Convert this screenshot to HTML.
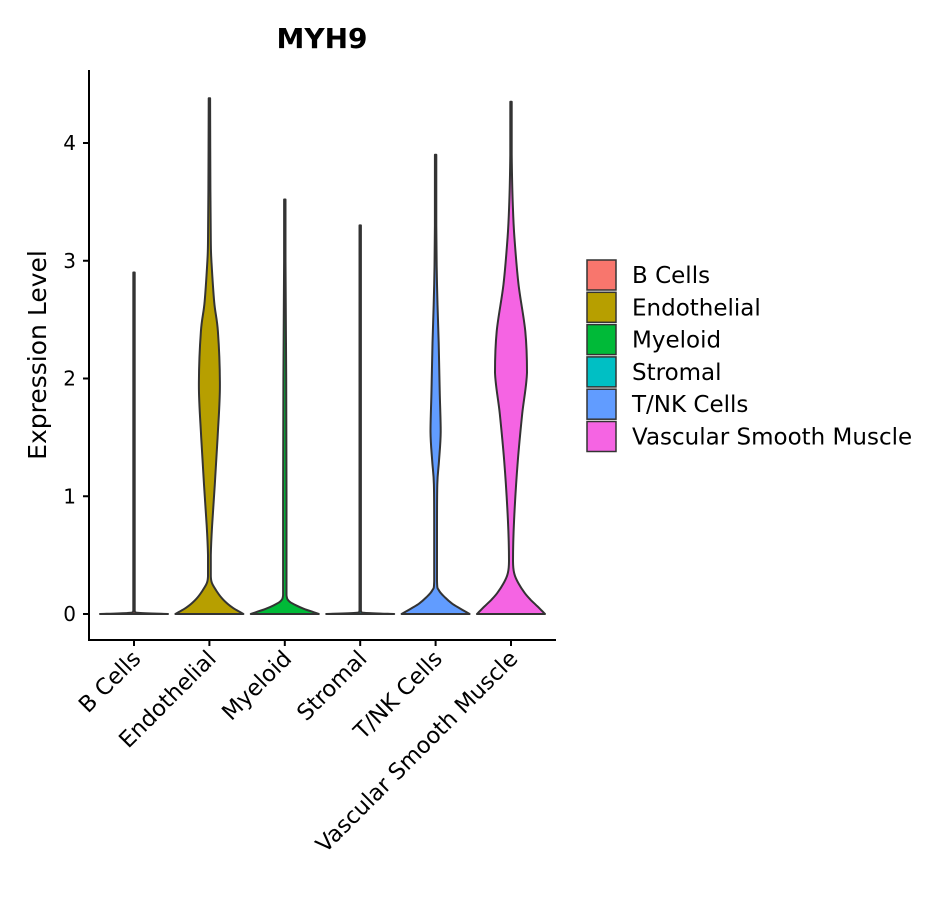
<!DOCTYPE html>
<html><head><meta charset="utf-8"><style>
body{margin:0;background:#fff}
text{font-family:"DejaVu Sans","Liberation Sans",sans-serif}
</style></head><body>
<svg id="chart" width="944" height="900" xmlns="http://www.w3.org/2000/svg">
<text x="322" y="48" text-anchor="middle" font-size="28" font-weight="bold">MYH9</text>
<g id="plot"></g>
<line x1="89" y1="70" x2="89" y2="641" stroke="#000" stroke-width="2"/>
<line x1="88" y1="640" x2="556" y2="640" stroke="#000" stroke-width="2"/>
<text transform="translate(46,355) rotate(-90)" text-anchor="middle" font-size="25">Expression Level</text>
<g id="yticks"></g><g id="xticks"></g><g id="legend"></g>
</svg>
<script>
const categories=["B Cells","Endothelial","Myeloid","Stromal","T/NK Cells","Vascular Smooth Muscle"];
const colors=["#F8766D","#B79F00","#00BA38","#00BFC4","#619CFF","#F564E3"];
const yTicks=[0,1,2,3,4];
// density profiles: expression values and relative half-widths (0-1)
const bVals=[0,0.01,0.03,2.9];           const bDens=[1,0.1,0.02,0.02];
const eVals=[0,0.02,0.05,0.09,0.14,0.2,0.26,0.32,0.5,0.75,1.1,1.5,1.94,2.4,2.65,3.0,3.17,3.6,4.38]; const eDens=[1,0.88,0.7,0.52,0.35,0.2,0.08,0.04,0.04,0.08,0.16,0.24,0.31,0.25,0.14,0.06,0.04,0.03,0.02];
const mVals=[0,0.02,0.045,0.075,0.11,0.16,0.3,1,2,3,3.52];   const mDens=[1,0.8,0.55,0.32,0.12,0.05,0.05,0.05,0.04,0.02,0.02];
const sVals=[0,0.01,0.03,3.3];           const sDens=[1,0.1,0.02,0.02];
const tVals=[0,0.02,0.05,0.09,0.14,0.2,0.28,0.7,1.1,1.3,1.55,1.9,2.3,2.8,3.3,3.9];  const tDens=[1,0.88,0.7,0.48,0.28,0.1,0.04,0.04,0.05,0.1,0.15,0.12,0.09,0.04,0.02,0.02];
const vVals=[0,0.03,0.07,0.12,0.18,0.26,0.34,0.45,0.8,1.3,1.7,2.05,2.4,2.8,3.2,3.5,3.9,4.35]; const vDens=[1,0.9,0.76,0.58,0.4,0.22,0.1,0.06,0.09,0.2,0.33,0.47,0.42,0.22,0.1,0.05,0.02,0.02];
const allVals=[bVals,eVals,mVals,sVals,tVals,vVals];
const allDens=[bDens,eDens,mDens,sDens,tDens,vDens];

const yScale=v=>614-v*117.75;
const xScale=i=>134+i*75.4;
const maxHW=34;
const NS="http://www.w3.org/2000/svg";
function mk(tag,attrs,parent){const e=document.createElementNS(NS,tag);for(const k in attrs)e.setAttribute(k,attrs[k]);parent.appendChild(e);return e;}
const clamp=(v,a,b)=>Math.max(Math.min(a,b),Math.min(Math.max(a,b),v));
function segs(pts){
  let d="";
  for(let i=0;i<pts.length-1;i++){
    const p0=pts[Math.max(0,i-1)],p1=pts[i],p2=pts[i+1],p3=pts[Math.min(pts.length-1,i+2)];
    const c1=[clamp(p1[0]+(p2[0]-p0[0])/6,p1[0],p2[0]),clamp(p1[1]+(p2[1]-p0[1])/6,p1[1],p2[1])];
    const c2=[clamp(p2[0]-(p3[0]-p1[0])/6,p1[0],p2[0]),clamp(p2[1]-(p3[1]-p1[1])/6,p1[1],p2[1])];
    d+=` C${c1[0].toFixed(1)},${c1[1].toFixed(1)} ${c2[0].toFixed(1)},${c2[1].toFixed(1)} ${p2[0].toFixed(1)},${p2[1].toFixed(1)}`;
  }
  return d;
}
const plot=document.getElementById('plot');
categories.forEach((c,i)=>{
  const vals=allVals[i],dens=allDens[i],cx=xScale(i);
  const right=vals.map((v,j)=>[cx+dens[j]*maxHW,yScale(v)]);
  const left=vals.map((v,j)=>[cx-dens[j]*maxHW,yScale(v)]).reverse();
  const d="M"+right[0][0]+","+right[0][1]+segs(right)+" L"+left[0][0]+","+left[0][1]+segs(left)+" Z";
  const p=mk('path',{d:d,fill:colors[i],stroke:"#333","stroke-width":2,"stroke-linejoin":"round"},plot);
  
  
});
const yt=document.getElementById('yticks');
yTicks.forEach(t=>{
  const l=mk('line',{x1:83,x2:89,y1:yScale(t),y2:yScale(t),stroke:"#000","stroke-width":2},yt);
  
  
  const tx=mk('text',{x:76,y:yScale(t)+7,"text-anchor":"end","font-size":20},yt);
  tx.textContent=t;
  
  
});
const xt=document.getElementById('xticks');
categories.forEach((c,i)=>{
  const x=xScale(i);
  const l=mk('line',{x1:x,x2:x,y1:640,y2:646,stroke:"#000","stroke-width":2},xt);
  
  
  const tx=mk('text',{transform:`translate(${x+8},${660}) rotate(-45)`,"text-anchor":"end","font-size":22.5},xt);
  tx.textContent=c;
  
  
});
const lg=document.getElementById('legend');
categories.forEach((c,i)=>{
  const y=260+i*32.3;
  const r=mk('rect',{x:587,y:y,width:29,height:30,fill:colors[i],stroke:"#333","stroke-width":1.5},lg);
  
  
  const tx=mk('text',{x:632,y:y+23,"font-size":23},lg);
  tx.textContent=c;
  
  
});
</script>
</body></html>
